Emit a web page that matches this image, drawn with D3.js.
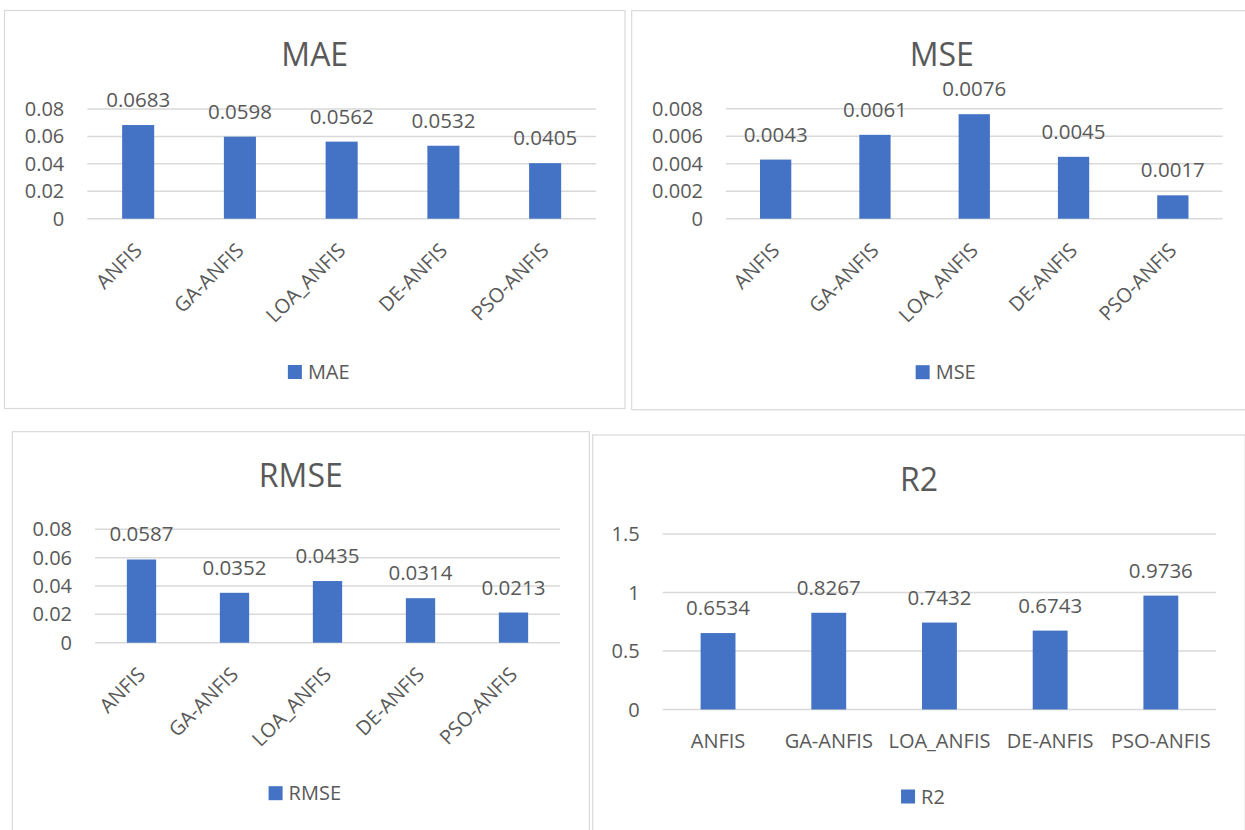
<!DOCTYPE html>
<html>
<head>
<meta charset="UTF-8">
<script src="https://d3js.org/d3.v7.min.js"></script>
<style>
  html, body { margin: 0; padding: 0; background: #fff; overflow: hidden; }
  svg { display: block; font-family: "Open Sans", "Noto Sans", sans-serif; }
  .grid line { stroke: #d9d9d9; stroke-width: 1.5px; }
  .tick-label, .cat-label, .val-label, .legend-text { fill: #595959; font-size: 20px; }
  .val-label { font-size: 20.5px; }
  .title { fill: #595959; font-size: 32px; }
  .panel { fill: #fff; stroke: #d9d9d9; stroke-width: 1.2px; }
</style>
</head>
<body>
<div id="chart"></div>
<script>
// data
const models = ["ANFIS", "GA-ANFIS", "LOA_ANFIS", "DE-ANFIS", "PSO-ANFIS"];
const maeValues = [0.0683, 0.0598, 0.0562, 0.0532, 0.0405];
const mseValues = [0.0043, 0.0061, 0.0076, 0.0045, 0.0017];
const rmseValues = [0.0587, 0.0352, 0.0435, 0.0314, 0.0213];
const r2Values = [0.6534, 0.8267, 0.7432, 0.6743, 0.9736];

const maeTicks = [0, 0.02, 0.04, 0.06, 0.08];
const mseTicks = [0, 0.002, 0.004, 0.006, 0.008];
const rmseTicks = [0, 0.02, 0.04, 0.06, 0.08];
const r2Ticks = [0, 0.5, 1, 1.5];

const W = 1245, H = 830;
const svg = d3.select("#chart").append("svg")
    .attr("width", W)
    .attr("height", H);

// panel layout (box, plot area)
const panels = [
  { name: "MAE", values: maeValues, ticks: maeTicks, box: [4.5, 10.5, 620.5, 398], plot: [87.3, 596, 109, 218.7], rotate: true },
  { name: "MSE", values: mseValues, ticks: mseTicks, box: [631.7, 10.7, 620, 399], plot: [726, 1222.5, 108.7, 218.7], rotate: true },
  { name: "RMSE", values: rmseValues, ticks: rmseTicks, box: [12.3, 431.7, 577, 420], plot: [95, 560, 529.3, 642.7], rotate: true },
  { name: "R2", values: r2Values, ticks: r2Ticks, box: [592.7, 435, 652.5, 420], plot: [662.7, 1216.2, 534, 709.5], rotate: false }
];

panels.forEach(p => {
  const [bx, by, bw, bh] = p.box;
  const [left, right, top, zero] = p.plot;
  const g = svg.append("g");

  g.append("rect").attr("class", "panel")
      .attr("x", bx).attr("y", by).attr("width", bw).attr("height", bh);

  const cx = bx + bw / 2;
  g.append("text").attr("class", "title")
      .attr("x", cx).attr("y", by + 55.5)
      .attr("text-anchor", "middle")
      .text(p.name);

  const x = d3.scaleBand()
      .domain(models)
      .range([left, right])
      .paddingInner(0.685)
      .paddingOuter(0.3425);

  const y = d3.scaleLinear()
      .domain([0, d3.max(p.ticks)])
      .range([zero, top]);

  // gridlines
  g.append("g").attr("class", "grid")
    .selectAll("line")
    .data(p.ticks)
    .join("line")
      .attr("x1", left).attr("x2", right)
      .attr("y1", d => y(d)).attr("y2", d => y(d));

  g.selectAll(".tick-label")
    .data(p.ticks)
    .join("text")
      .attr("class", "tick-label")
      .attr("x", left - 23)
      .attr("y", d => y(d))
      .attr("dy", "0.35em")
      .attr("text-anchor", "end")
      .text(d => String(d));

  const data = models.map((m, i) => ({ m, v: p.values[i] }));

  g.selectAll(".bar")
    .data(data)
    .join("rect")
      .attr("class", "bar")
      .attr("fill", "#4472c4")
      .attr("x", d => x(d.m))
      .attr("width", x.bandwidth())
      .attr("y", d => y(d.v))
      .attr("height", d => zero - y(d.v));

  g.selectAll(".val-label")
    .data(data)
    .join("text")
      .attr("class", "val-label")
      .attr("x", d => x(d.m) + x.bandwidth() / 2)
      .attr("y", d => y(d.v) - 18)
      .attr("text-anchor", "middle")
      .text(d => d.v.toFixed(4));

  if (p.rotate) {
    g.selectAll(".cat-label")
      .data(models)
      .join("text")
        .attr("class", "cat-label")
        .attr("text-anchor", "end")
        .attr("transform", d => `translate(${x(d) + x.bandwidth() / 2 + 5},${zero + 33}) rotate(-45)`)
        .text(d => d);
  } else {
    g.selectAll(".cat-label")
      .data(models)
      .join("text")
        .attr("class", "cat-label")
        .attr("text-anchor", "middle")
        .attr("x", d => x(d) + x.bandwidth() / 2)
        .attr("y", zero + 38.8)
        .text(d => d);
  }

  // legend
  const lg = g.append("g");
  const lt = lg.append("text").attr("class", "legend-text")
      .attr("x", 20).attr("y", 14)
      .text(p.name);
  lg.append("rect").attr("x", 0).attr("y", 0).attr("width", 14).attr("height", 14)
      .attr("fill", "#4472c4");
  const gw = 20 + lt.node().getComputedTextLength();
  lg.attr("transform", `translate(${cx - gw / 2 + 4},${by + 354.5})`);
});
</script>
</body>
</html>
